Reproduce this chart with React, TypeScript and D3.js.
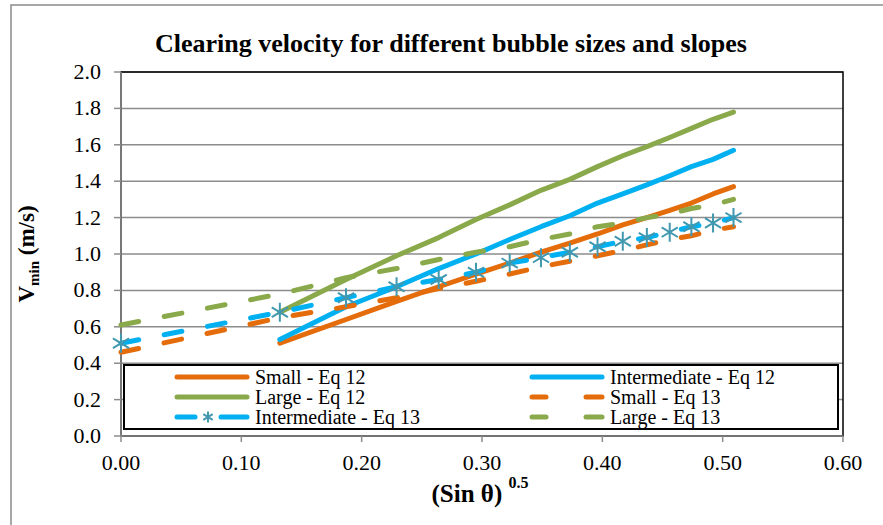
import * as d3 from "d3";

const W = 883;
const H = 525;
const M = { left: 121, right: 843, top: 72, bottom: 436 };

// sqrt(sin θ) for θ = 0..15 degrees
const xs = [0, 0.132, 0.187, 0.229, 0.264, 0.295, 0.323, 0.349, 0.373, 0.396, 0.417, 0.437, 0.456, 0.474, 0.492, 0.509];
const xsEq12 = xs.slice(1);

const smallEq12 = [0.51, 0.64, 0.74, 0.82, 0.89, 0.95, 1.01, 1.06, 1.11, 1.16, 1.2, 1.24, 1.28, 1.33, 1.37];
const intermediateEq12 = [0.53, 0.71, 0.82, 0.92, 1.0, 1.08, 1.15, 1.21, 1.28, 1.33, 1.38, 1.43, 1.48, 1.52, 1.57];
const largeEq12 = [0.68, 0.86, 0.99, 1.09, 1.19, 1.27, 1.35, 1.41, 1.48, 1.54, 1.59, 1.64, 1.69, 1.74, 1.78];
const smallEq13 = [0.46, 0.65, 0.71, 0.76, 0.81, 0.85, 0.89, 0.93, 0.96, 0.99, 1.02, 1.05, 1.08, 1.1, 1.13, 1.15];
const intermediateEq13 = [0.51, 0.68, 0.76, 0.82, 0.86, 0.9, 0.95, 0.98, 1.01, 1.04, 1.07, 1.09, 1.12, 1.15, 1.17, 1.2];
const largeEq13 = [0.61, 0.78, 0.87, 0.92, 0.97, 1.01, 1.04, 1.08, 1.11, 1.15, 1.17, 1.2, 1.22, 1.25, 1.27, 1.3];

const xTicks = [0, 0.1, 0.2, 0.3, 0.4, 0.5, 0.6];
const yTicks = [0, 0.2, 0.4, 0.6, 0.8, 1.0, 1.2, 1.4, 1.6, 1.8, 2.0];

const ORANGE = "#E46C0A";
const BLUE = "#00B0F0";
const GREEN = "#8AA94B";
const MARKER = "#4198AF";
const GRID = "#8C8C8C";
const FONT = "'Times New Roman', 'Liberation Serif', 'DejaVu Serif', serif";

type Series = { name: string; x: number[]; y: number[]; color: string; dashed: boolean; marker: boolean };

const series: Series[] = [
  { name: "Small - Eq 12", x: xsEq12, y: smallEq12, color: ORANGE, dashed: false, marker: false },
  { name: "Intermediate - Eq 12", x: xsEq12, y: intermediateEq12, color: BLUE, dashed: false, marker: false },
  { name: "Large - Eq 12", x: xsEq12, y: largeEq12, color: GREEN, dashed: false, marker: false },
  { name: "Small - Eq 13", x: xs, y: smallEq13, color: ORANGE, dashed: true, marker: false },
  { name: "Intermediate - Eq 13", x: xs, y: intermediateEq13, color: BLUE, dashed: true, marker: true },
  { name: "Large - Eq 13", x: xs, y: largeEq13, color: GREEN, dashed: true, marker: false },
];

const x = d3.scaleLinear().domain([0, 0.6]).range([M.left, M.right]);
const y = d3.scaleLinear().domain([0, 2]).range([M.bottom, M.top]);

function star(cx: number, cy: number, r: number) {
  const d = r * 0.85;
  return `M${cx},${cy - r}L${cx},${cy + r}M${cx - d},${cy - d * 0.6}L${cx + d},${cy + d * 0.6}M${cx - d},${cy + d * 0.6}L${cx + d},${cy - d * 0.6}`;
}

export default function App() {
  const lineGen = d3
    .line<[number, number]>()
    .x((d) => x(d[0]))
    .y((d) => y(d[1]));

  const legendX = [177, 532];
  const legendY = [377, 397, 417];

  return (
    <svg width={W} height={H} style={{ position: "absolute", left: 0, top: 0, background: "#fff", fontFamily: FONT }}>
      <rect x={11} y={5} width={W + 20} height={H + 20} fill="#fff" stroke="#8A8A8A" strokeWidth={1.5} />

      <text x={451} y={52} textAnchor="middle" fontSize={26} fontWeight="bold">
        Clearing velocity for different bubble sizes and slopes
      </text>

      {/* grid */}
      {yTicks.map((t) => (
        <line key={"g" + t} x1={M.left} x2={M.right} y1={y(t)} y2={y(t)} stroke={GRID} strokeWidth={1.5} />
      ))}
      <rect x={M.left} y={M.top} width={M.right - M.left} height={M.bottom - M.top} fill="none" stroke="#000" strokeWidth={1.5} />

      {/* axes */}
      <line x1={M.left} x2={M.left} y1={M.top} y2={M.bottom} stroke={GRID} strokeWidth={1.5} />
      <line x1={M.left} x2={M.right} y1={M.bottom} y2={M.bottom} stroke={GRID} strokeWidth={1.5} />
      {yTicks.map((t) => (
        <g key={"y" + t}>
          <line x1={M.left - 7} x2={M.left} y1={y(t)} y2={y(t)} stroke={GRID} strokeWidth={1.5} />
          <text x={101} y={y(t) + 7} textAnchor="end" fontSize={22}>
            {t.toFixed(1)}
          </text>
        </g>
      ))}
      {xTicks.map((t) => (
        <g key={"x" + t}>
          <line x1={x(t)} x2={x(t)} y1={M.bottom} y2={M.bottom + 6} stroke={GRID} strokeWidth={1.5} />
          <text x={x(t)} y={470} textAnchor="middle" fontSize={22}>
            {t.toFixed(2)}
          </text>
        </g>
      ))}

      {/* series */}
      {series.map((s) => (
        <path
          key={s.name}
          d={lineGen(s.x.map((v, i) => [v, s.y[i]] as [number, number])) ?? ""}
          fill="none"
          stroke={s.color}
          strokeWidth={5}
          strokeLinecap="round"
          strokeLinejoin="round"
          strokeDasharray={s.dashed ? "18 26" : undefined}
        />
      ))}
      {series
        .filter((s) => s.marker)
        .map((s) =>
          s.x.map((v, i) => (
            <path key={s.name + i} d={star(x(v), y(s.y[i]), 9.5)} stroke={MARKER} strokeWidth={2} fill="none" />
          ))
        )}

      {/* legend */}
      <rect x={124} y={365} width={714} height={64} fill="#fff" stroke="#000" strokeWidth={2} />
      {series.map((s, k) => {
        const col = k % 2;
        const row = Math.floor(k / 2);
        const lx = legendX[col];
        const ly = legendY[row];
        return (
          <g key={"l" + s.name}>
            {s.dashed ? (
              s.marker ? (
                <g>
                  <line x1={lx} x2={lx + 18} y1={ly} y2={ly} stroke={s.color} strokeWidth={5} strokeLinecap="round" />
                  <line x1={lx + 44} x2={lx + 70} y1={ly} y2={ly} stroke={s.color} strokeWidth={5} strokeLinecap="round" />
                  <path d={star(lx + 31, ly, 5.5)} stroke={MARKER} strokeWidth={2} fill="none" />
                </g>
              ) : (
                <g>
                  <line x1={lx} x2={lx + 14} y1={ly} y2={ly} stroke={s.color} strokeWidth={5} strokeLinecap="round" />
                  <line x1={lx + 54} x2={lx + 70} y1={ly} y2={ly} stroke={s.color} strokeWidth={5} strokeLinecap="round" />
                </g>
              )
            ) : (
              <line x1={lx} x2={lx + 70} y1={ly} y2={ly} stroke={s.color} strokeWidth={5} strokeLinecap="round" />
            )}
            <text x={lx + 78} y={ly + 7} fontSize={20}>
              {s.name}
            </text>
          </g>
        );
      })}

      {/* axis titles */}
      <text transform="translate(34,254) rotate(-90)" textAnchor="middle" fontSize={23} fontWeight="bold">
        <tspan>V</tspan>
        <tspan fontSize={15} dy={5}>min</tspan>
        <tspan dy={-5}> (m/s)</tspan>
      </text>
      <text x={480} y={502} textAnchor="middle" fontSize={25} fontWeight="bold">
        <tspan>(Sin θ) </tspan>
        <tspan fontSize={16} dy={-14}>0.5</tspan>
      </text>
    </svg>
  );
}
